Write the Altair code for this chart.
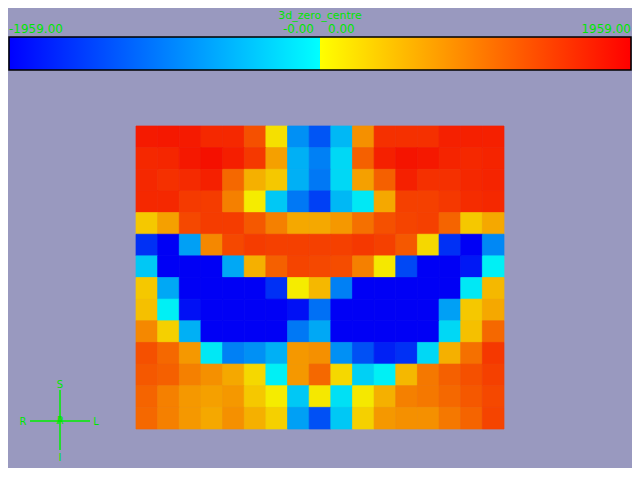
import altair as alt
import pandas as pd

TITLE = "3d_zero_centre"
VMIN, VMAX = -1959, 1959
BAR_NEG = [-1959, 0]
BAR_POS = [0, 1959]
BAR_LABEL_VALUES = [-1959, 0, 0, 1959]
BAR_LABEL_TEXT = ["-1959.00", "-0.00", "0.00", "1959.00"]
ORIENT_TEXT = ["S", "R", "L", "I", "P", "A"]

GRID = [
    [1751, 1767, 1751, 1639, 1639, 1319, 168, -808, -1279, -488, 808, 1575, 1575, 1575, 1703, 1703, 1703],
    [1639, 1655, 1767, 1831, 1719, 1511, 680, -552, -936, -232, 1191, 1703, 1799, 1767, 1671, 1639, 1671],
    [1639, 1575, 1623, 1703, 1127, 552, 360, -552, -999, -232, 680, 1191, 1703, 1575, 1575, 1639, 1671],
    [1639, 1639, 1495, 1479, 936, 72, -360, -999, -1447, -488, -104, 616, 1447, 1447, 1511, 1607, 1639],
    [360, 680, 1383, 1479, 1479, 1255, 936, 616, 616, 744, 1063, 1319, 1415, 1447, 1159, 360, 616],
    [-1575, -1959, -680, 872, 1383, 1479, 1447, 1447, 1447, 1447, 1511, 1447, 1255, 232, -1575, -1959, -872],
    [-360, -1959, -1959, -1959, -616, 552, 1191, 1415, 1383, 1351, 936, 104, -1383, -1959, -1959, -1767, -40],
    [360, -616, -1959, -1959, -1959, -1959, -1575, 72, 488, -936, -1959, -1959, -1959, -1959, -1959, -104, 488],
    [424, -40, -1831, -1959, -1959, -1959, -1959, -1831, -1063, -1959, -1959, -1959, -1959, -1959, -680, 360, 616],
    [872, 296, -552, -1959, -1959, -1959, -1959, -999, -616, -1959, -1959, -1959, -1959, -1959, -232, 424, 1127],
    [1319, 1127, 744, -104, -936, -808, -552, 744, 808, -808, -1319, -1703, -1575, -232, 552, 1063, 1511],
    [1255, 1191, 936, 808, 616, 232, -40, 744, 1127, 232, -296, -40, 488, 999, 1191, 1319, 1447],
    [1159, 936, 744, 680, 744, 360, 72, -360, 104, -168, 104, 552, 936, 999, 1127, 1255, 1383],
    [1127, 936, 744, 616, 808, 552, 296, -680, -1319, -360, 296, 744, 808, 808, 999, 1159, 1415],
]

NROWS = len(GRID)
NCOLS = len(GRID[0])

records = []
for r, row in enumerate(GRID):
    for c, v in enumerate(row):
        records.append({"row": r, "row_end": r + 1, "col": c, "col_end": c + 1, "value": v})
heat_df = pd.DataFrame(records)

GREEN = "#00e600"
LINE_GREEN = "#00f000"
BG = "#9999bf"
FONT = "DejaVu Sans"

heat_scale = alt.Scale(domain=[VMIN, -0.5, 0.5, VMAX],
                       range=["#0000f5", "#00f5f5", "#f5f500", "#f50000"],
                       interpolate="rgb", nice=False)

heat = alt.Chart(heat_df).mark_rect(strokeWidth=0.7).encode(
    x=alt.X("col:Q", scale=alt.Scale(domain=[0, NCOLS], range=[128, 496], nice=False, zero=False), axis=None),
    x2="col_end:Q",
    y=alt.Y("row:Q", scale=alt.Scale(domain=[0, NROWS], range=[118, 421], nice=False, zero=False), axis=None),
    y2="row_end:Q",
    color=alt.Color("value:Q", scale=heat_scale, legend=None),
    stroke=alt.Stroke("value:Q", scale=heat_scale, legend=None),
)

bar_x = alt.Scale(domain=[VMIN, VMAX], range=[1, 623], nice=False, zero=False)


def seg(vals, c0, c1):
    df = pd.DataFrame({"start": [vals[0]], "end": [vals[1]]})
    return alt.Chart(df).mark_rect(
        color=alt.LinearGradient(
            gradient="linear",
            stops=[alt.GradientStop(color=c0, offset=0), alt.GradientStop(color=c1, offset=1)],
            x1=0, x2=1, y1=0, y2=0,
        )
    ).encode(
        x=alt.X("start:Q", scale=bar_x, axis=None),
        x2="end:Q",
        y=alt.value(29),
        y2=alt.value(62),
    )


neg = seg(BAR_NEG, "#0000ff", "#00ffff")
pos = seg(BAR_POS, "#ffff00", "#ff0000")

border = alt.Chart(pd.DataFrame({"start": [VMIN], "end": [VMAX]})).mark_rect(
    fillOpacity=0, stroke="black", strokeWidth=1.5
).encode(
    x=alt.X("start:Q", scale=bar_x, axis=None),
    x2="end:Q",
    y=alt.value(29),
    y2=alt.value(62),
)

label_layers = []
aligns = ["left", "right", "left", "right"]
dxs = [0, -6, 8, 0]
for v, t, a, d in zip(BAR_LABEL_VALUES, BAR_LABEL_TEXT, aligns, dxs):
    df = pd.DataFrame({"v": [v], "t": [t]})
    label_layers.append(
        alt.Chart(df).mark_text(align=a, baseline="alphabetic", dx=d, font=FONT, fontSize=12, color=GREEN).encode(
            x=alt.X("v:Q", scale=bar_x, axis=None),
            y=alt.value(24.5),
            text="t:N",
        )
    )

title = alt.Chart(pd.DataFrame({"t": [TITLE]})).mark_text(
    align="center", baseline="alphabetic", font=FONT, fontSize=11, color=GREEN
).encode(x=alt.value(312), y=alt.value(10.5), text="t:N")

# orientation marker
hline = alt.Chart(pd.DataFrame({"a": [0]})).mark_rule(color=LINE_GREEN, strokeWidth=1.5).encode(
    x=alt.value(22), x2=alt.value(82), y=alt.value(413)
)
vline = alt.Chart(pd.DataFrame({"a": [0]})).mark_rule(color=LINE_GREEN, strokeWidth=1.5).encode(
    x=alt.value(52), y=alt.value(382), y2=alt.value(442)
)
orient_pos = {"S": (52, 377), "R": (15, 414), "L": (88, 414), "I": (52, 450), "P": (52, 413), "A": (52, 413)}
orient_layers = []
for t in ORIENT_TEXT:
    px, py = orient_pos[t]
    orient_layers.append(
        alt.Chart(pd.DataFrame({"t": [t]})).mark_text(
            align="center", baseline="middle", font=FONT, fontSize=10, color=GREEN
        ).encode(x=alt.value(px), y=alt.value(py), text="t:N")
    )

chart = alt.layer(
    heat, neg, pos, border, title, *label_layers, hline, vline, *orient_layers
).resolve_scale(
    x="independent", y="independent", color="independent", stroke="independent"
).properties(
    width=624, height=460, padding=0,
    autosize=alt.AutoSizeParams(type="none"),
    background=BG,
).configure_view(stroke=None)

chart.save("out.html", embed_options={"renderer": "svg", "actions": False})
